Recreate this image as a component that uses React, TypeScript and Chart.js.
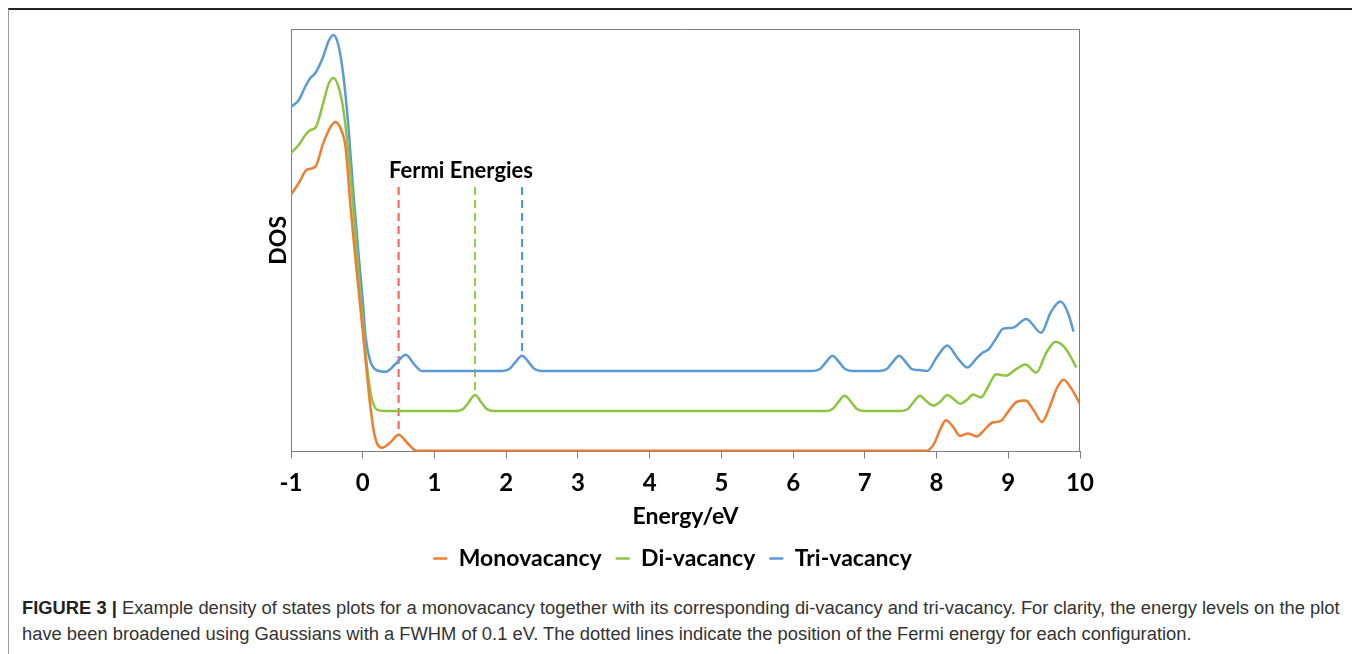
import React, { useEffect, useRef } from "react";
import { Chart, registerables } from "chart.js";
Chart.register(...registerables);

// ---------- data (energies in eV, DOS in arbitrary units, offset per series) ----------
const monoEnergy = [
  -1.0, -0.89, -0.78, -0.66, -0.55, -0.45, -0.38, -0.3, -0.24, -0.17, -0.1, -0.03, 0.04, 0.1, 0.17, 0.27, 0.38,
  0.5, 0.62, 0.75, 7.86, 7.96, 8.05, 8.13, 8.22, 8.33, 8.44, 8.56, 8.67, 8.78, 8.89, 9.0, 9.12, 9.24, 9.35, 9.47,
  9.58, 9.68, 9.77, 9.88, 10.0,
];
const monoDos = [
  60.8, 63.6, 66.7, 67.4, 73.0, 76.8, 78.0, 76.1, 72.1, 57.9, 45.4, 33.6, 21.7, 11.6, 3.5, 0.9, 2.1, 4.0, 2.1, 0.2,
  0.2, 1.7, 5.2, 7.4, 6.1, 3.7, 4.3, 3.6, 5.2, 6.9, 7.2, 9.5, 11.8, 12.1, 9.9, 7.0, 10.7, 15.1, 17.0, 14.9, 11.3,
];

const diEnergy = [
  -1.0, -0.89, -0.8, -0.73, -0.66, -0.55, -0.48, -0.41, -0.34, -0.27, -0.2, -0.13, -0.06, 0.0, 0.06, 0.12, 0.2, 0.3,
  1.28, 1.4, 1.47, 1.565, 1.66, 1.73, 1.85, 6.44, 6.55, 6.62, 6.72, 6.82, 6.89, 7.0, 7.49, 7.6, 7.67, 7.77, 7.86,
  7.95, 8.05, 8.15, 8.24, 8.33, 8.42, 8.51, 8.62, 8.72, 8.83, 8.97, 9.1, 9.24, 9.39, 9.53, 9.66, 9.76, 9.83, 9.95,
];
const diDos = [
  70.7, 72.6, 74.9, 76.1, 76.6, 82.5, 86.8, 88.4, 86.4, 80.9, 70.7, 57.2, 42.3, 31.2, 20.1, 13.0, 9.9, 9.6, 9.6, 10.1,
  11.5, 13.4, 11.5, 10.1, 9.6, 9.6, 10.1, 11.5, 13.2, 11.5, 10.1, 9.6, 9.6, 10.1, 11.5, 13.2, 11.9, 10.9, 11.8, 13.4,
  12.4, 11.3, 12.2, 13.5, 12.8, 15.4, 18.3, 18.0, 19.4, 20.6, 18.7, 23.4, 26.0, 25.1, 23.6, 19.9,
];

const triEnergy = [
  -1.0, -0.89, -0.8, -0.73, -0.66, -0.55, -0.48, -0.41, -0.34, -0.27, -0.2, -0.13, -0.06, 0.0, 0.04, 0.1, 0.18, 0.32,
  0.45, 0.6, 0.72, 0.82, 1.94, 2.05, 2.12, 2.222, 2.32, 2.39, 2.5, 6.27, 6.38, 6.45, 6.55, 6.65, 6.72, 6.83, 7.2,
  7.31, 7.38, 7.48, 7.58, 7.65, 7.76, 7.87, 8.01, 8.15, 8.29, 8.43, 8.54, 8.64, 8.72, 8.82, 8.93, 9.06, 9.25, 9.46,
  9.59, 9.73, 9.83, 9.91,
];
const triDos = [
  81.6, 83.2, 86.4, 88.4, 89.6, 93.5, 97.0, 98.6, 96.2, 89.0, 77.0, 61.2, 47.0, 35.9, 27.2, 21.7, 19.4, 18.9, 20.6,
  22.9, 20.6, 19.1, 19.1, 19.6, 21.0, 22.7, 21.0, 19.6, 19.1, 19.1, 19.6, 21.0, 22.7, 21.0, 19.6, 19.1, 19.1, 19.6,
  21.0, 22.7, 21.0, 19.6, 19.3, 19.1, 22.5, 25.1, 22.2, 19.9, 21.7, 23.4, 24.1, 26.5, 29.1, 29.3, 31.4, 28.1, 32.9,
  35.5, 32.9, 28.4,
];

const seriesNames = ["Monovacancy", "Di-vacancy", "Tri-vacancy"];
const seriesColors = ["#ED7D31", "#8CC63F", "#5B9BD5"];

const fermiEnergies = [0.5, 1.565, 2.222];
const fermiTop = 62.6;
const fermiBottoms = [4.0, 13.4, 22.7];
const fermiColors = ["#FF5A5A", "#8CD147", "#4A90D9"];
const fermiLabel = "Fermi Energies";
const fermiLabelPos = [1.37, 66.4];

const xTickValues = [-1, 0, 1, 2, 3, 4, 5, 6, 7, 8, 9, 10];
const xTitle = "Energy/eV";
const yTitle = "DOS";

const captionLines = [
  "Example density of states plots for a monovacancy together with its corresponding di-vacancy and tri-vacancy. For clarity, the energy levels on the plot",
  "have been broadened using Gaussians with a FWHM of 0.1 eV. The dotted lines indicate the position of the Fermi energy for each configuration.",
];

const CHART_FONT = "Lato, 'Open Sans', sans-serif";

const toPoints = (xs: number[], ys: number[]) => xs.map((x, i) => ({ x, y: ys[i] }));

const framePlugin = {
  id: "frameAndLabel",
  afterDraw(chart: any) {
    const { ctx, chartArea: a, scales } = chart;
    ctx.save();
    ctx.strokeStyle = "#7f7f7f";
    ctx.lineWidth = 1;
    ctx.beginPath();
    ctx.moveTo(a.left, Math.round(a.top) + 0.5);
    ctx.lineTo(a.right, Math.round(a.top) + 0.5);
    ctx.moveTo(Math.round(a.right) - 0.5, a.top);
    ctx.lineTo(Math.round(a.right) - 0.5, a.bottom);
    ctx.stroke();
    ctx.font = `bold 22px ${CHART_FONT}`;
    ctx.fillStyle = "#000";
    ctx.textAlign = "center";
    ctx.textBaseline = "middle";
    ctx.fillText(
      fermiLabel,
      scales.x.getPixelForValue(fermiLabelPos[0]),
      scales.y.getPixelForValue(fermiLabelPos[1])
    );
    ctx.restore();
  },
};

function App() {
  const canvasRef = useRef<HTMLCanvasElement | null>(null);

  useEffect(() => {
    if (!canvasRef.current) return;
    const series = [
      toPoints(monoEnergy, monoDos),
      toPoints(diEnergy, diDos),
      toPoints(triEnergy, triDos),
    ];
    const datasets: any[] = series.map((data, i) => ({
      label: seriesNames[i],
      data,
      borderColor: seriesColors[i],
      backgroundColor: seriesColors[i],
      borderWidth: 2.5,
      pointRadius: 0,
      fill: false,
      cubicInterpolationMode: "monotone",
    }));
    fermiEnergies.forEach((e, i) => {
      datasets.push({
        label: "fermi" + i,
        data: [
          { x: e, y: fermiTop },
          { x: e, y: fermiBottoms[i] },
        ],
        borderColor: fermiColors[i],
        borderWidth: 2,
        borderDash: [8, 5],
        pointRadius: 0,
        fill: false,
      });
    });

    const chart = new Chart(canvasRef.current, {
      type: "line",
      data: { datasets },
      plugins: [framePlugin],
      options: {
        animation: false,
        responsive: false,
        events: [],
        layout: { padding: { left: 256, right: 275, top: 19, bottom: 0 } },
        plugins: {
          tooltip: { enabled: false },
          legend: {
            position: "bottom",
            labels: {
              filter: (item: any) => item.datasetIndex < 3,
              usePointStyle: true,
              pointStyle: "line",
              pointStyleWidth: 14,
              padding: 14,
              color: "#000",
              font: { family: CHART_FONT, size: 23, weight: "bold" },
            },
          },
        },
        scales: {
          x: {
            type: "linear",
            min: -1,
            max: 10,
            afterBuildTicks: (s: any) => {
              s.ticks = xTickValues.map((v) => ({ value: v }));
            },
            ticks: {
              padding: 10,
              color: "#000",
              font: { family: CHART_FONT, size: 24, weight: "bold" },
              callback: (v: any) => String(v),
            },
            grid: { display: true, drawOnChartArea: false, drawTicks: true, tickLength: 7, color: "#7f7f7f" },
            border: { display: true, color: "#7f7f7f", width: 1 },
            title: {
              display: true,
              text: xTitle,
              color: "#000",
              font: { family: CHART_FONT, size: 23, weight: "bold" },
              padding: { top: -5, bottom: 3 },
            },
          },
          y: {
            type: "linear",
            min: 0,
            max: 100,
            ticks: { display: false },
            grid: { display: false },
            border: { display: true, color: "#7f7f7f", width: 1 },
            afterFit: (s: any) => {
              s.width = 26;
            },
            title: {
              display: true,
              text: yTitle,
              color: "#000",
              font: { family: CHART_FONT, size: 23, weight: "bold" },
              padding: { top: 0, bottom: 0 },
            },
          },
        },
      },
    } as any);
    return () => chart.destroy();
  }, []);

  return (
    <div
      style={{
        position: "relative",
        width: 1348,
        height: 660,
        boxSizing: "border-box",
        borderLeft: "1px solid #9a9a9a",
        borderRight: "1px solid #9a9a9a",
        borderTop: "2px solid #222",
        background: "#fff",
      }}
    >
      <canvas
        ref={canvasRef}
        width={1346}
        height={570}
        style={{ position: "absolute", left: 0, top: 0, display: "block" }}
      />
      <div
        style={{
          position: "absolute",
          left: 13,
          top: 585,
          width: 1330,
          whiteSpace: "nowrap",
          fontFamily: "'Liberation Sans', Arial, sans-serif",
          fontSize: 18.35,
          lineHeight: "26px",
          color: "#333",
        }}
      >
        <div>
          <b style={{ color: "#222" }}>FIGURE 3 |</b> {captionLines[0]}
        </div>
        <div>{captionLines[1]}</div>
      </div>
    </div>
  );
}

export default App;
